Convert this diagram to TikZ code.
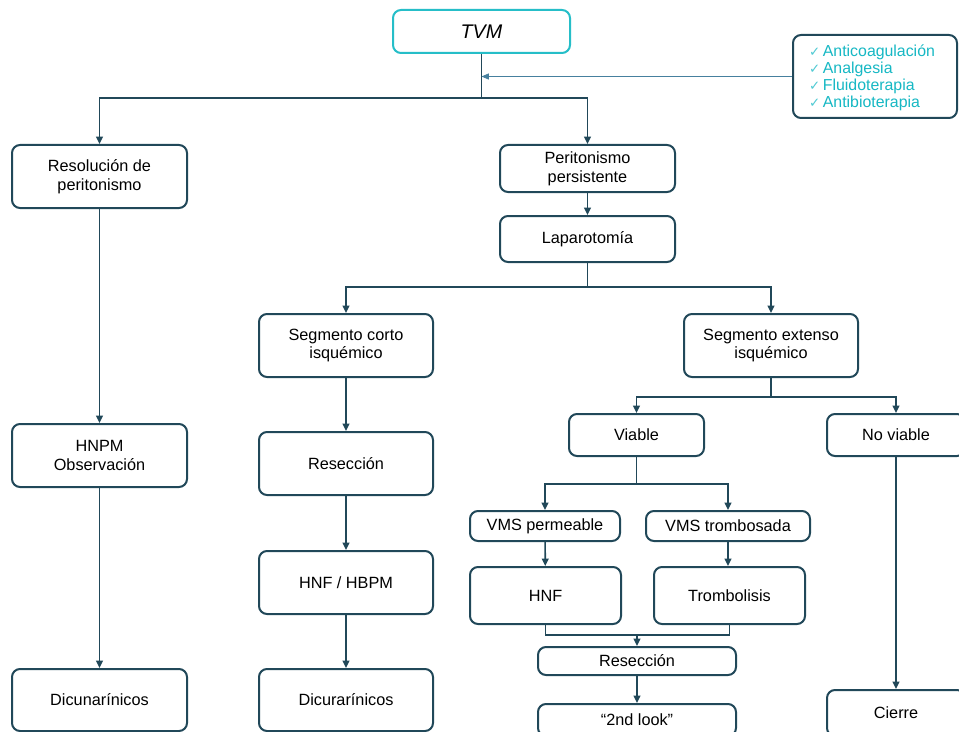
\documentclass[tikz,border=0pt]{standalone}
\usepackage{fontspec}
\setmainfont{Liberation Sans}
\newfontfamily\checkfont{DejaVu Sans}
\usetikzlibrary{arrows.meta}
\definecolor{dk}{RGB}{33,72,89}
\definecolor{cy}{RGB}{38,190,200}
\definecolor{cytext}{RGB}{22,184,196}
\definecolor{thin}{RGB}{70,128,158}
\newcommand{\ck}{{\checkfont\fontsize{10}{10}\selectfont\color{cytext!75}✓}\,}
\tikzset{
  bx/.style 2 args={draw=dk, line width=1.5pt, rounded corners=6pt, fill=white,
    minimum width=#1*0.75pt, minimum height=#2*0.75pt, inner sep=0pt, align=center,
    font=\fontsize{12.2}{14}\selectfont},
  conn/.style={draw=dk, line width=1.2pt},
  arr/.style={conn, -{Triangle[length=5.5pt,width=5pt]}},
  thinarr/.style={draw=thin, line width=0.6pt, -{Triangle[length=5.5pt,width=4.5pt]}}
}
\begin{document}
\begin{tikzpicture}[x=0.75pt,y=-0.75pt]
\clip (0,0) rectangle (959,731);
\fill[white] (0,0) rectangle (959,731);
% nodes
\node[bx={177}{43}, draw=cy, font=\fontsize{14.8}{16}\selectfont\itshape] (tvm) at (481.5,31.5) {TVM};
\node[bx={164}{83}] (chk) at (875,76.5) {};
\node[align=left, text=cytext, inner sep=0pt, font=\fontsize{11.9}{12.7}\selectfont] (chktxt) at (872,78)
  {\ck Anticoagulación\\\ck Analgesia\\\ck Fluidoterapia\\\ck Antibioterapia};
\node[bx={175}{63}] (res) at (99.5,176.5) {Resolución de\\peritonismo};
\node[bx={175}{47}] (per) at (587.5,168.5) {Peritonismo\\persistente};
\node[bx={175}{46}] (lap) at (587.5,239) {Laparotomía};
\node[bx={174}{63}] (seg1) at (346,345.5) {Segmento corto\\isquémico};
\node[bx={174}{63}] (seg2) at (771,345.5) {Segmento extenso\\isquémico};
\node[bx={175}{63}] (hnpm) at (99.5,455.5) {HNPM\\Observación};
\node[bx={175}{62}] (dicun) at (99.5,700) {Dicunarínicos};
\node[bx={174}{63}] (resec1) at (346,463.5) {Resección};
\node[bx={174}{63}] (hnf1) at (346,582.5) {HNF / HBPM};
\node[bx={174}{62}] (dicur) at (346,700) {Dicurarínicos};
\node[bx={135}{42}] (viable) at (636.5,435) {Viable};
\node[bx={138}{42}] (noviable) at (896,435) {No viable};
\node[bx={150}{30}] (vms1) at (545,526) {VMS permeable};
\node[bx={164}{30}] (vms2) at (728,526) {VMS trombosada};
\node[bx={151}{57}] (hnf2) at (545.5,595.5) {HNF};
\node[bx={151}{57}] (tromb) at (729.5,595.5) {Trombolisis};
\node[bx={198}{28}] (resec2) at (637,661) {Resección};
\node[bx={198}{32}] (look) at (637,720) {“2nd look”};
\node[bx={138}{46}] (cierre) at (896,713) {Cierre};
% junctions
\coordinate (j1) at (481.5,98);
\coordinate (j2) at (587.5,287);
\coordinate (j3) at (771,397);
\coordinate (j4) at (636.5,484);
\coordinate (j5) at (637,635);
% connectors
\draw[conn] (tvm.south) -- (j1);
\draw[arr] (j1) -| (res.north);
\draw[arr] (j1) -| (per.north);
\draw[thinarr] (chk.west) -- (chk.west -| j1);
\draw[arr] (per) -- (lap);
\draw[conn] (lap.south) -- (j2);
\draw[arr] (j2) -| (seg1.north);
\draw[arr] (j2) -| (seg2.north);
\draw[arr] (res) -- (hnpm);
\draw[arr] (hnpm) -- (dicun);
\draw[arr] (seg1) -- (resec1);
\draw[arr] (resec1) -- (hnf1);
\draw[arr] (hnf1) -- (dicur);
\draw[conn] (seg2.south) -- (j3);
\draw[arr] (j3) -| (viable.north);
\draw[arr] (j3) -| (noviable.north);
\draw[conn] (viable.south) -- (j4);
\draw[arr] (j4) -| (vms1.north);
\draw[arr] (j4) -| (vms2.north);
\draw[arr] (vms1) -- (hnf2);
\draw[arr] (vms2.south) -- (vms2.south |- tromb.north);
\draw[conn] (hnf2.south) |- (j5) -| (tromb.south);
\draw[arr] (j5) -- (resec2.north);
\draw[arr] (resec2) -- (look);
\draw[arr] (noviable) -- (cierre);
\end{tikzpicture}
\end{document}
